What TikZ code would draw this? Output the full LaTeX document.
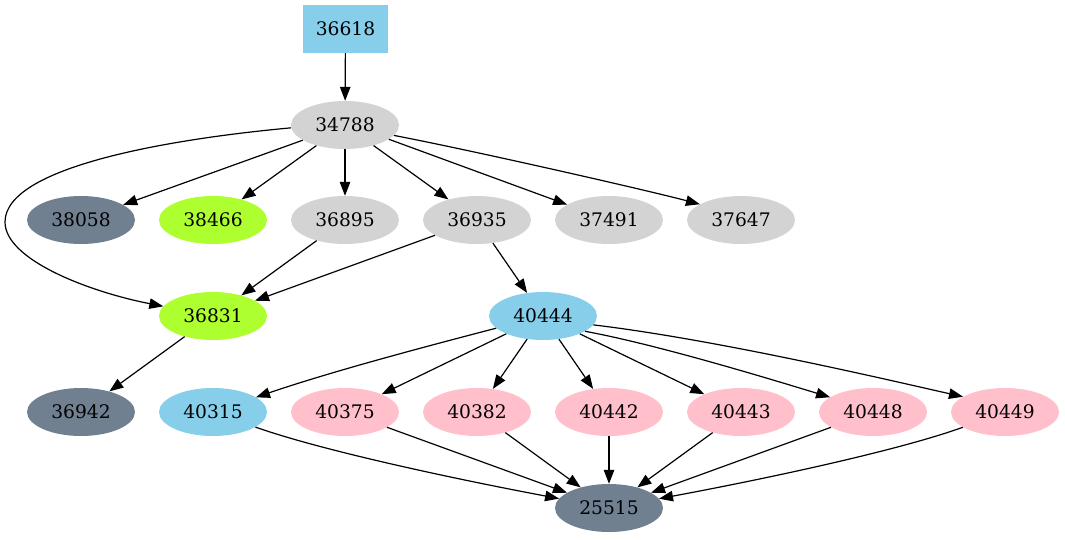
\documentclass[tikz,border=0pt]{standalone}
\usepackage{fontspec}
\setmainfont{DejaVu Serif}
\usetikzlibrary{shapes.geometric,arrows.meta}
\definecolor{skyblue}{HTML}{87CEEB}
\definecolor{lgrey}{HTML}{D3D3D3}
\definecolor{slate}{HTML}{708090}
\definecolor{gyellow}{HTML}{ADFF2F}
\definecolor{pinkc}{HTML}{FFC0CB}
\begin{document}
\begin{tikzpicture}[x=1pt,y=-1pt,
  every node/.style={font=\fontsize{18.67}{22}\selectfont, inner sep=0pt},
  ell/.style={ellipse, minimum width=108pt, minimum height=48pt},
  grey/.style={ell, fill=lgrey},
  slatec/.style={ell, fill=slate},
  green/.style={ell, fill=gyellow},
  blue/.style={ell, fill=skyblue},
  pinkn/.style={ell, fill=pinkc},
  boxn/.style={rectangle, fill=skyblue, minimum width=85pt, minimum height=48pt},
  edge/.style={line width=1.2pt, -{Triangle[length=14pt,width=10.5pt]}}]
\useasboundingbox (0,0) rectangle (1065,539);
\node[boxn] (n36618) at (345.5,29) {36618};
\node[grey] (n34788) at (345,125) {34788};
\node[slatec] (n38058) at (81,220) {38058};
\node[green] (n38466) at (213,220) {38466};
\node[grey] (n36895) at (345,220) {36895};
\node[grey] (n36935) at (477,220) {36935};
\node[grey] (n37491) at (609,220) {37491};
\node[grey] (n37647) at (741,220) {37647};
\node[green] (n36831) at (213,316) {36831};
\node[blue] (n40444) at (543,316) {40444};
\node[slatec] (n36942) at (81,412) {36942};
\node[blue] (n40315) at (213,412) {40315};
\node[pinkn] (n40375) at (345,412) {40375};
\node[pinkn] (n40382) at (477,412) {40382};
\node[pinkn] (n40442) at (609,412) {40442};
\node[pinkn] (n40443) at (741,412) {40443};
\node[pinkn] (n40448) at (873,412) {40448};
\node[pinkn] (n40449) at (1005,412) {40449};
\node[slatec] (n25515) at (609,508) {25515};

\draw[edge] (n36618) -- (n34788);
\draw[edge] (n34788) -- (n38058);
\draw[edge] (n34788) -- (n38466);
\draw[edge] (n34788) -- (n36895);
\draw[edge] (n34788) -- (n36935);
\draw[edge] (n34788.-18) -- (n37491);
\draw[edge] (n34788.-12) .. controls (470,150) and (642,189) .. (n37647.159);
\draw[edge] (n34788.183) .. controls (180,138) and (5,165) .. (5,222)
  .. controls (5,260) and (90,292) .. (n36831);
\draw[edge] (n36895) -- (n36831);
\draw[edge] (n36935) -- (n36831);
\draw[edge] (n36935) -- (n40444);
\draw[edge] (n36831) -- (n36942);
\draw[edge] (n40444) .. controls (420,348) and (330,372) .. (n40315);
\draw[edge] (n40444) -- (n40375);
\draw[edge] (n40444) -- (n40382);
\draw[edge] (n40444) -- (n40442);
\draw[edge] (n40444) -- (n40443);
\draw[edge] (n40444.-20) .. controls (660,345) and (783,383) .. (n40448.161);
\draw[edge] (n40444.-10) .. controls (720,340) and (897,382) .. (n40449.160);
\draw[edge] (n40315) .. controls (320,450) and (450,478) .. (n25515);
\draw[edge] (n40375) -- (n25515);
\draw[edge] (n40382) -- (n25515);
\draw[edge] (n40442) -- (n25515);
\draw[edge] (n40443) -- (n25515);
\draw[edge] (n40448) -- (n25515);
\draw[edge] (n40449) .. controls (900,450) and (770,478) .. (n25515);
\end{tikzpicture}
\end{document}
